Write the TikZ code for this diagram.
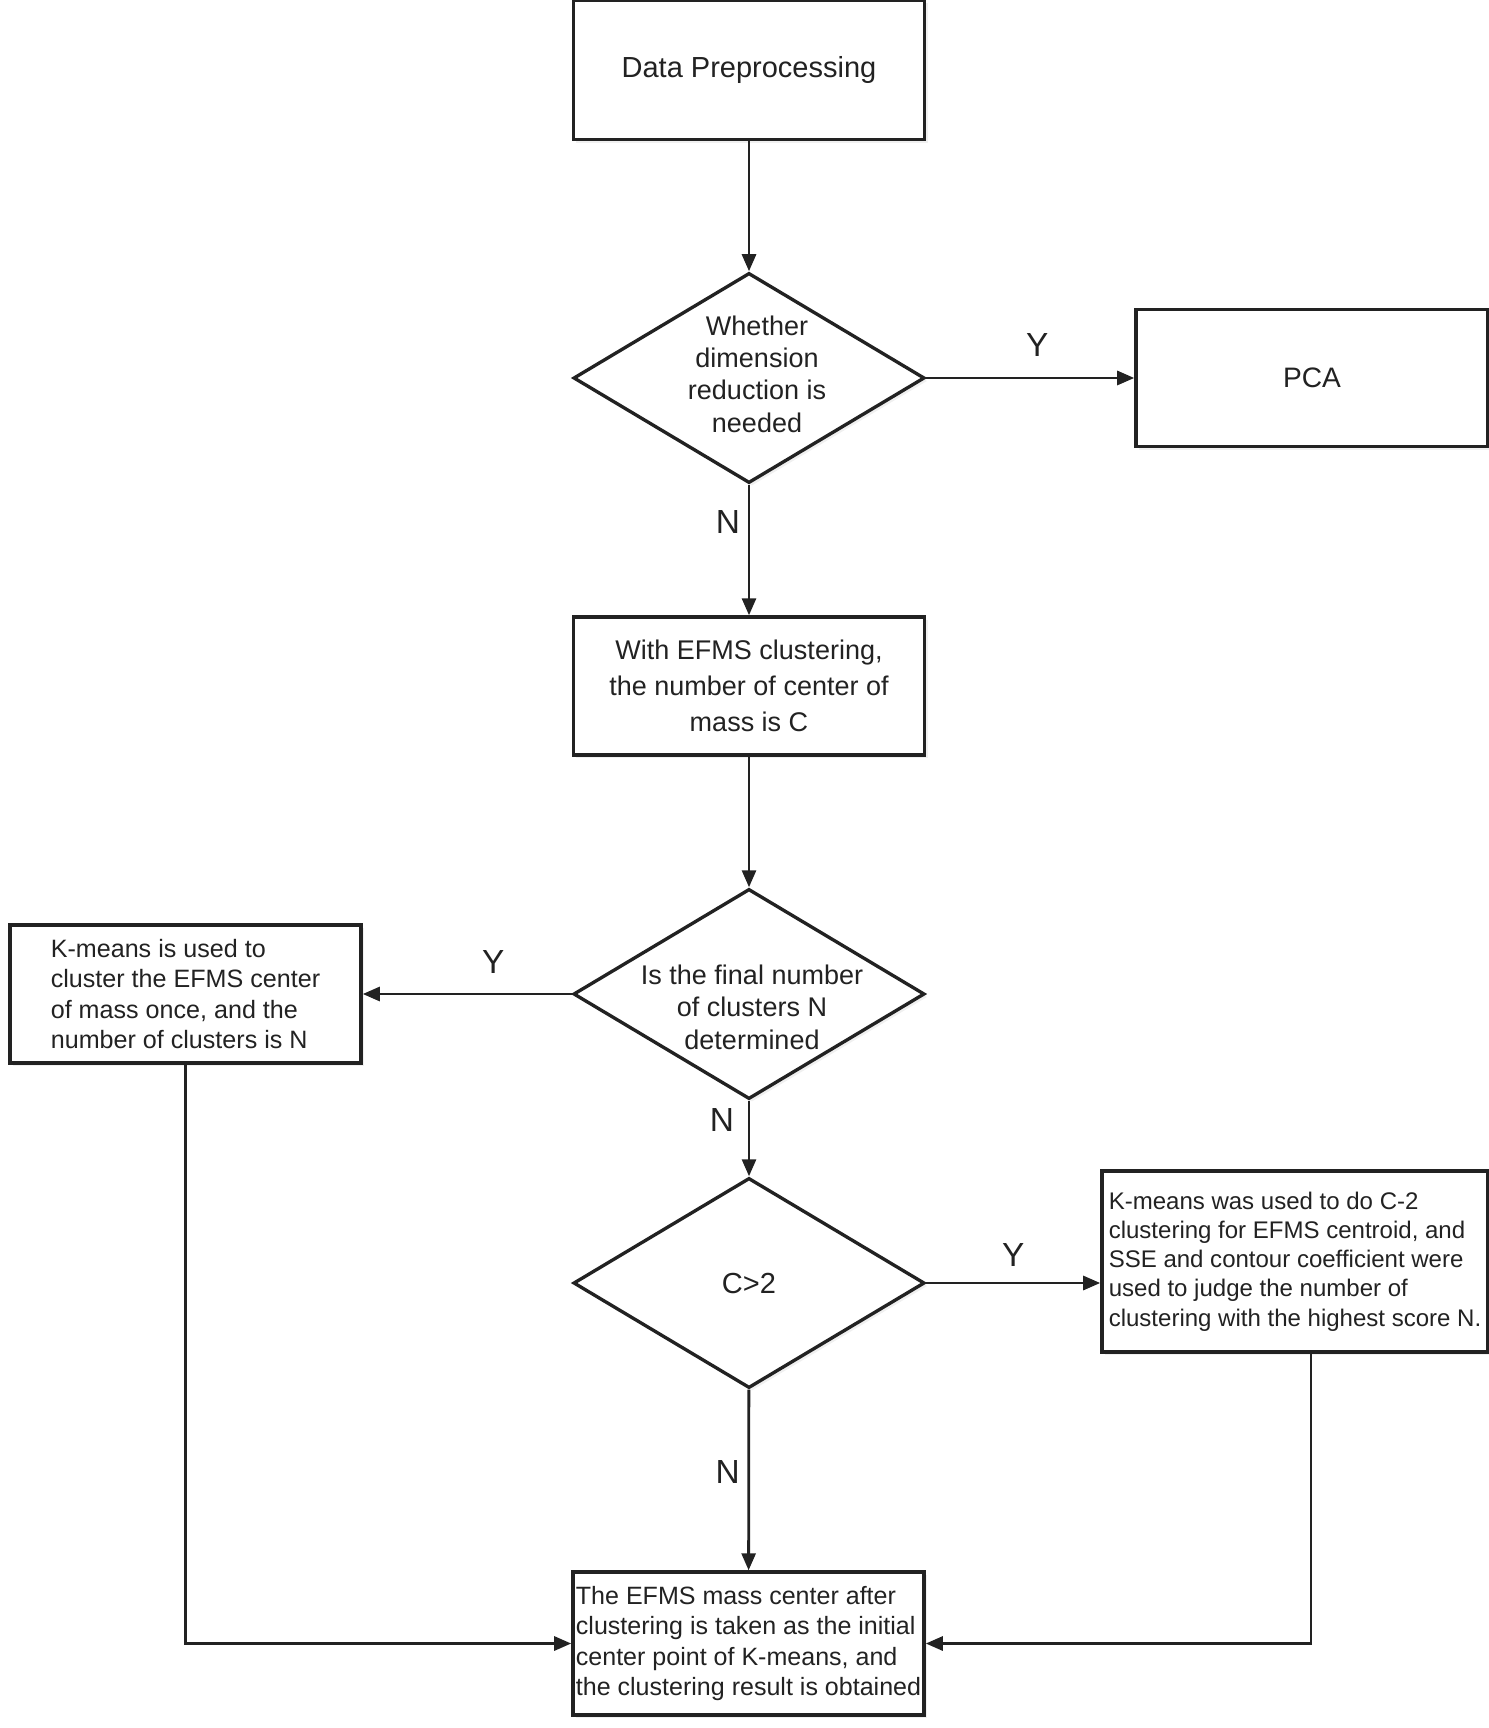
\documentclass[tikz,border=0pt]{standalone}
\usepackage{fontspec}
\setmainfont{Liberation Sans}
\usetikzlibrary{arrows.meta,shapes.geometric,shadows}
\definecolor{FlowInk}{HTML}{222222}

\begin{document}
\begin{tikzpicture}[
  x=0.01cm,
  y=-0.01cm,
  >={Triangle[length=0.17cm,width=0.14cm]},
  boxshade/.style={drop shadow={opacity=0.12,shadow xshift=0.03cm,shadow yshift=-0.03cm}},
  process/.style={draw=FlowInk,line width=0.95pt,fill=white,boxshade,
    minimum width=3.51cm,minimum height=1.38cm,inner sep=0pt,text=FlowInk},
  decision/.style={diamond,draw=FlowInk,line width=0.95pt,fill=white,boxshade,
    minimum width=3.51cm,minimum height=2.10cm,inner sep=0pt},
  dtext/.style={align=center,text=FlowInk,inner sep=0pt},
  flow/.style={->,line width=0.8pt,draw=FlowInk},
  yn/.style={font=\fontsize{9.5}{11}\selectfont,text=FlowInk,inner sep=0pt}
]
  \useasboundingbox (0,0) rectangle (1489,1728);

  \node[process,minimum height=1.39cm,font=\fontsize{8.25}{10}\selectfont]
    (prep) at (749,70) {Data Preprocessing};
  \node[decision,label={[dtext,xshift=0.08cm,yshift=0.04cm,font=\fontsize{7.68}{9.19}\selectfont]
    center:Whether\\dimension\\reduction is\\needed}] (dimcheck) at (749,378) {};
  \node[process,minimum width=3.52cm,minimum height=1.37cm,font=\fontsize{8}{10}\selectfont]
    (pca) at (1312,378) {PCA};
  \node[process,align=center,font=\fontsize{7.68}{10.19}\selectfont]
    (efms) at (749,686) {With EFMS clustering,\\the number of center of\\mass is C};
  \node[decision,label={[dtext,xshift=0.03cm,yshift=-0.13cm,font=\fontsize{7.68}{9.25}\selectfont]
    center:Is the final number\\of clusters N\\determined}] (ncheck) at (749,994) {};
  \node[process,align=left,font=\fontsize{7.14}{8.54}\selectfont]
    (konce) at (185.5,994) {K-means is used to\\cluster the EFMS center\\of mass once, and the\\number of clusters is N};
  \node[decision,label={[dtext,font=\fontsize{8.25}{10}\selectfont]center:C>2}]
    (cmore) at (749,1283) {};
  \node[process,align=left,minimum width=3.86cm,minimum height=1.81cm,
    font=\fontsize{6.83}{8.31}\selectfont]
    (kcsse) at (1295,1261.5) {K-means was used to do C-2\\clustering for EFMS centroid, and\\SSE and contour coefficient were\\used to judge the number of\\clustering with the highest score N.};
  \node[process,align=left,minimum height=1.43cm,font=\fontsize{7.12}{8.54}\selectfont]
    (result) at (748.5,1643.5) {The EFMS mass center after\\clustering is taken as the initial\\center point of K-means, and\\the clustering result is obtained};

  \draw[flow] (prep) -- (dimcheck);
  \draw[flow] (dimcheck) -- node[yn,xshift=0.07cm,yshift=0.33cm] (yes1) {Y} (pca);
  \draw[flow] (dimcheck) -- node[yn,xshift=-0.21cm,yshift=0.28cm] (no1) {N} (efms);
  \draw[flow] (efms) -- (ncheck);
  \draw[flow] (ncheck) -- node[yn,xshift=0.26cm,yshift=0.32cm] (yes2) {Y} (konce);
  \draw[flow] (ncheck) -- node[yn,xshift=-0.27cm,yshift=0.18cm] (no2) {N} (cmore);
  \draw[flow] (cmore) -- node[yn,yshift=0.28cm] (yes3) {Y} (cmore.east -| kcsse.west);
  \draw[flow] (cmore) -- node[yn,xshift=-0.21cm,yshift=0.08cm] (no3) {N} (result);
  \draw[flow] (konce.south) |- (result.west);
  \draw[flow] ([xshift=0.16cm]kcsse.south) |- (result.east);
\end{tikzpicture}
\end{document}
